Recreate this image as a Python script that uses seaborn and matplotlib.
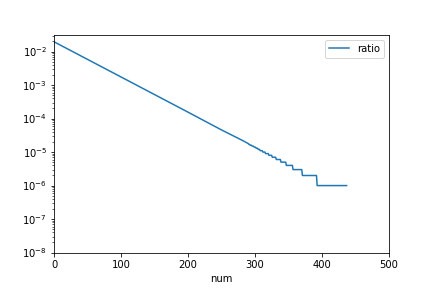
import matplotlib
matplotlib.use('Agg')
import matplotlib.pyplot as plt
import seaborn as sns
import pandas as pd

# values (rounded ratio gives the staircase at the end)
num = [0, 100, 200, 250, 280, 290, 291, 292, 293, 295, 296, 298, 299, 301,
       302, 304, 305, 307, 308, 311, 312, 315, 316, 320, 321, 325, 326, 331,
       332, 338, 339, 346, 347, 356, 357, 370, 371, 392, 393, 437]
ratio = [0.0196, 1.75e-3, 1.56e-4, 4.6e-5, 2.3e-5, 1.8e-5, 1.7e-5, 1.7e-5,
         1.6e-5, 1.6e-5, 1.5e-5, 1.5e-5, 1.4e-5, 1.4e-5, 1.3e-5, 1.3e-5,
         1.2e-5, 1.2e-5, 1.1e-5, 1.1e-5, 1e-5, 1e-5, 9e-6, 9e-6, 8e-6, 8e-6,
         7e-6, 7e-6, 6e-6, 6e-6, 5e-6, 5e-6, 4e-6, 4e-6, 3e-6, 3e-6,
         2e-6, 2e-6, 1e-6, 1e-6]

df = pd.DataFrame({'num': num, 'ratio': ratio})

fig, ax = plt.subplots(figsize=(6, 4), dpi=72)
fig.subplots_adjust(left=0.125, right=0.9, top=0.88, bottom=0.123)

sns.lineplot(x='num', y='ratio', data=df, label='ratio', ax=ax)

ax.set_yscale('log')
ax.set_xlim(0, 500)
ax.set_ylim(1e-8, 0.0322)
ax.set_ylabel('')
ax.legend(loc='upper right')

fig.savefig('out.png', dpi=72)
